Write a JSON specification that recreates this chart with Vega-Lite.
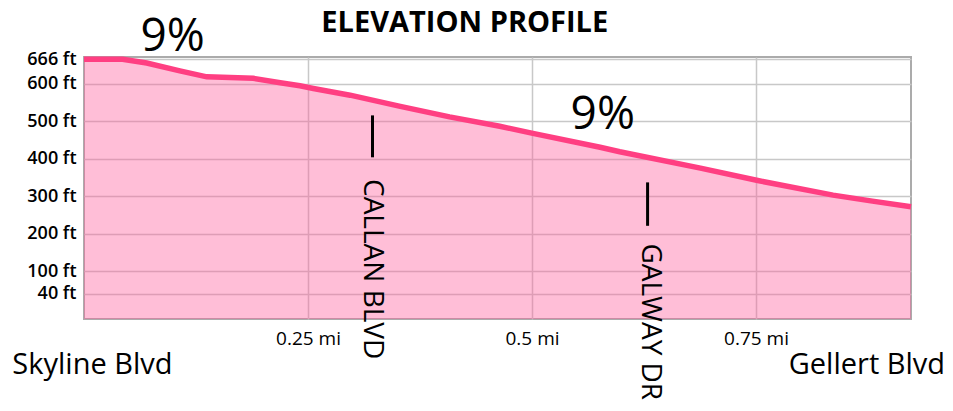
{
  "$schema": "https://vega.github.io/schema/vega-lite/v6.json",
  "width": 827,
  "height": 262,
  "autosize": "none",
  "padding": {"left": 84, "top": 57, "right": 42, "bottom": 92},
  "background": "white",
  "config": {
    "font": "Open Sans",
    "view": {"stroke": "#ABABAB", "strokeWidth": 2}
  },
  "datasets": {
    "profile": [
      {"mi": 0.0, "ft": 666},
      {"mi": 0.043, "ft": 666},
      {"mi": 0.07, "ft": 656},
      {"mi": 0.107, "ft": 635},
      {"mi": 0.137, "ft": 619},
      {"mi": 0.163, "ft": 617},
      {"mi": 0.189, "ft": 615},
      {"mi": 0.219, "ft": 603},
      {"mi": 0.241, "ft": 595},
      {"mi": 0.256, "ft": 588},
      {"mi": 0.297, "ft": 570},
      {"mi": 0.353, "ft": 540},
      {"mi": 0.408, "ft": 512},
      {"mi": 0.464, "ft": 487},
      {"mi": 0.501, "ft": 468},
      {"mi": 0.576, "ft": 431},
      {"mi": 0.598, "ft": 419},
      {"mi": 0.688, "ft": 375},
      {"mi": 0.752, "ft": 342},
      {"mi": 0.836, "ft": 303},
      {"mi": 0.88, "ft": 287},
      {"mi": 0.923, "ft": 272}
    ],
    "ticks": [
      {"mi": 0.322, "top": 516, "bottom": 404},
      {"mi": 0.629, "top": 337, "bottom": 221}
    ],
    "grades": [
      {"mi": 0.099, "ft": 688, "label": "9%"},
      {"mi": 0.579, "ft": 479, "label": "9%"}
    ],
    "streets": [
      {"mi": 0.321, "ft": 346, "label": "CALLAN BLVD"},
      {"mi": 0.632, "ft": 174, "label": "GALWAY DR"}
    ],
    "ends": [
      {"mi": -0.08, "ft": -175, "label": "Skyline Blvd", "side": "left"},
      {"mi": 0.961, "ft": -175, "label": "Gellert Blvd", "side": "right"}
    ],
    "heading": [
      {"mi": 0.425, "ft": 739, "label": "ELEVATION PROFILE"}
    ]
  },
  "layer": [
    {
      "data": {"name": "profile"},
      "mark": {"type": "area", "color": "#FF5C9A", "opacity": 0.4},
      "encoding": {
        "x": {
          "field": "mi", "type": "quantitative",
          "scale": {"domain": [0, 0.923], "nice": false, "zero": false},
          "axis": {
            "values": [0.25, 0.5, 0.75], "tickCount": 20,
            "labelExpr": "datum.value + ' mi'",
            "title": null, "ticks": false, "domain": false,
            "grid": true, "gridColor": "#C8C8C8", "gridWidth": 1.5,
            "labelFontSize": 19, "labelColor": "#000000", "labelPadding": 10,
            "labelOverlap": false
          }
        },
        "y": {
          "field": "ft", "type": "quantitative",
          "scale": {"domain": [-28, 672], "nice": false, "zero": false},
          "axis": {
            "values": [40, 100, 200, 300, 400, 500, 600, 666], "tickCount": 20,
            "labelExpr": "datum.value + ' ft'",
            "title": null, "ticks": false, "domain": false,
            "grid": true, "gridColor": "#C8C8C8", "gridWidth": 1.5,
            "labelFontSize": 18, "labelColor": "#000000", "labelPadding": 8,
            "labelFontWeight": 600, "labelOverlap": false, "labelBound": false
          }
        },
        "y2": {"datum": -28}
      }
    },
    {
      "data": {"name": "profile"},
      "mark": {"type": "line", "color": "#FF3F82", "strokeWidth": 5.5},
      "encoding": {
        "x": {"field": "mi", "type": "quantitative"},
        "y": {"field": "ft", "type": "quantitative"}
      }
    },
    {
      "data": {"name": "ticks"},
      "mark": {"type": "rule", "color": "#000000", "strokeWidth": 3},
      "encoding": {
        "x": {"field": "mi", "type": "quantitative"},
        "y": {"field": "top", "type": "quantitative"},
        "y2": {"field": "bottom"}
      }
    },
    {
      "data": {"name": "grades"},
      "mark": {"type": "text", "fontSize": 46, "align": "center", "baseline": "alphabetic", "color": "#000000"},
      "encoding": {
        "x": {"field": "mi", "type": "quantitative"},
        "y": {"field": "ft", "type": "quantitative"},
        "text": {"field": "label"}
      }
    },
    {
      "data": {"name": "streets"},
      "mark": {"type": "text", "fontSize": 28, "angle": 90, "align": "left", "baseline": "middle", "color": "#000000"},
      "encoding": {
        "x": {"field": "mi", "type": "quantitative"},
        "y": {"field": "ft", "type": "quantitative"},
        "text": {"field": "label"}
      }
    },
    {
      "data": {"name": "ends"},
      "transform": [{"filter": "datum.side === 'left'"}],
      "mark": {"type": "text", "fontSize": 29, "align": "left", "baseline": "alphabetic", "color": "#000000"},
      "encoding": {
        "x": {"field": "mi", "type": "quantitative"},
        "y": {"field": "ft", "type": "quantitative"},
        "text": {"field": "label"}
      }
    },
    {
      "data": {"name": "ends"},
      "transform": [{"filter": "datum.side === 'right'"}],
      "mark": {"type": "text", "fontSize": 29, "align": "right", "baseline": "alphabetic", "color": "#000000"},
      "encoding": {
        "x": {"field": "mi", "type": "quantitative"},
        "y": {"field": "ft", "type": "quantitative"},
        "text": {"field": "label"}
      }
    },
    {
      "data": {"name": "heading"},
      "mark": {"type": "text", "fontSize": 29, "fontWeight": "bold", "align": "center", "baseline": "alphabetic", "color": "#000000"},
      "encoding": {
        "x": {"field": "mi", "type": "quantitative"},
        "y": {"field": "ft", "type": "quantitative"},
        "text": {"field": "label"}
      }
    }
  ]
}
